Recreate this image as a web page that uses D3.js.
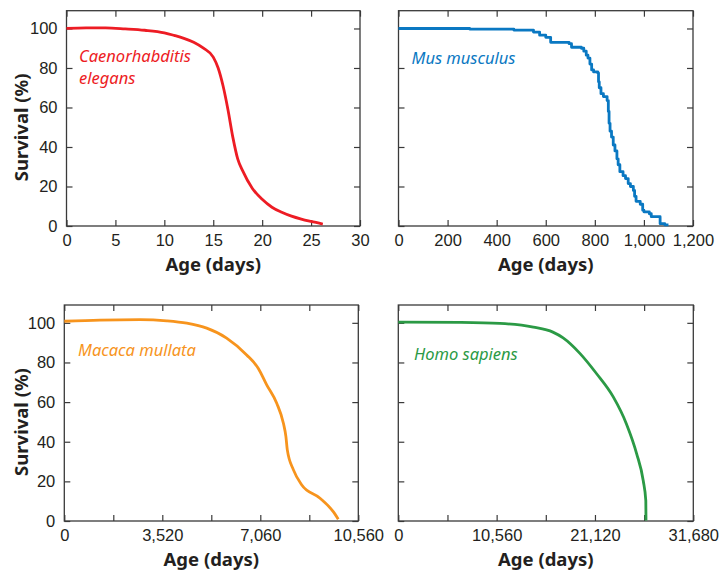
<!DOCTYPE html>
<html>
<head>
<meta charset="utf-8">
<script src="https://cdn.jsdelivr.net/npm/d3@7"></script>
<style>
  body { margin: 0; background: #fff; }
  svg { font-family: "Noto Sans", "Open Sans", sans-serif; }
  .tick text { fill: #231f20; }
</style>
</head>
<body>
<svg id="chart" width="721" height="570"></svg>
<script>
// survival curves, [age in days, survival %]
var elegans = [[0,100],[2,100.3],[4,100.3],[6,99.8],[8,99.1],[10,97.8],[11,96.5],[12,95],[13,93],[14,90],
  [15,85.5],[15.5,80],[16,71],[16.5,59],[17,45],[17.5,34],[18,28],[19,19],[20,13.5],[21,9.5],[22,7],
  [23,5],[24,3.5],[25,2.3],[26.2,1]];

var musculus = [[0,100],[290,99.7],[470,99.2],[550,98.2],[575,96.6],[600,95.5],[620,93],[695,92.3],[705,90.5],
  [745,90],[755,88.5],[765,86.5],[772,85],[780,82],[787,79],[795,78],[812,77.5],[815,73],[818,70],[825,67],
  [835,65.5],[850,63.5],[855,58],[858,52],[862,48],[868,45],[875,41],[882,38],[890,34],[895,31],[902,27.5],
  [915,25.5],[925,24],[936,21.5],[945,20],[957,18],[962,15],[968,12.5],[985,11],[995,8],[1000,7.2],
  [1022,6.2],[1030,4.7],[1066,1.2],[1085,0.6],[1100,0.6]];

var mullata = [[0,100.8],[1280,101.4],[2720,101.6],[3680,101],[4400,99.8],[5115,97.3],[5830,92.3],[6550,83.8],
  [6970,77],[7270,68.7],[7630,59.4],[7870,49.3],[7960,42.6],[8010,35.9],[8230,25.8],[8530,18.2],[9185,11.5],
  [9660,4.7],[9840,0.9]];

var sapiens = [[0,100.4],[6600,100.2],[10900,99.7],[14500,97.8],[16600,95.3],[17700,92.4],[19500,84.6],
  [21300,74.3],[23100,62.5],[24500,49],[25600,33.9],[26300,20.4],[26580,10.3],[26600,0.3]];

var yTicks = [0, 20, 40, 60, 80, 100];
var xTicksElegans = [0, 5, 10, 15, 20, 25, 30];
var xTicksMus = [0, 200, 400, 600, 800, 1000, 1200];
var xTicksMacaca = [0, 1760, 3520, 5280, 7040, 8800, 10560];
var xLabelsMacaca = ["0", "", "3,520", "", "7,060", "", "10,560"];
var xTicksHomo = [0, 5280, 10560, 15840, 21120, 26400, 31680];
var xLabelsHomo = ["0", "", "10,560", "", "21,120", "", "31,680"];

var svg = d3.select("#chart");

var panels = [
  { data: elegans, xmax: 30, ticks: xTicksElegans, labels: xTicksElegans.map(String),
    box: [66.5, 360, 10.7, 226], color: "#ed1c24", curve: d3.curveMonotoneX,
    name: ["Caenorhabditis", "elegans"], nx: 79, ny: 62, yLabels: true },
  { data: musculus, xmax: 1200, ticks: xTicksMus, labels: xTicksMus.map(d3.format(",")),
    box: [398.5, 693, 10.7, 226], color: "#0a78c2", curve: d3.curveStepAfter,
    name: ["Mus musculus"], nx: 411.5, ny: 63.5, yLabels: false },
  { data: mullata, xmax: 10560, ticks: xTicksMacaca, labels: xLabelsMacaca,
    box: [64.3, 358.3, 305, 521], color: "#f7941d", curve: d3.curveMonotoneX,
    name: ["Macaca mullata"], nx: 78, ny: 356, yLabels: true },
  { data: sapiens, xmax: 31680, ticks: xTicksHomo, labels: xLabelsHomo,
    box: [398.3, 693.3, 305, 521], color: "#2b9a45", curve: d3.curveMonotoneX,
    name: ["Homo sapiens"], nx: 414, ny: 360, yLabels: false }
];

var axisColor = "#3a3a3a";
var tickLen = 6;

panels.forEach(function (p) {
  var x0 = p.box[0], x1 = p.box[1], y0 = p.box[2], y1 = p.box[3];
  var x = d3.scaleLinear().domain([0, p.xmax]).range([x0, x1]);
  var y = d3.scaleLinear().domain([0, 109]).range([y1, y0]);

  var g = svg.append("g");

  // ticks inward on all four sides
  var bottom = g.append("g").attr("transform", "translate(0," + y1 + ")")
    .call(d3.axisBottom(x).tickValues(p.ticks).tickSizeInner(-tickLen).tickSizeOuter(0)
      .tickPadding(tickLen + 2).tickFormat(function (d, i) { return p.labels[i]; }));
  var top = g.append("g").attr("transform", "translate(0," + y0 + ")")
    .call(d3.axisTop(x).tickValues(p.ticks).tickSizeInner(-tickLen).tickSizeOuter(0).tickFormat(""));
  var left = g.append("g").attr("transform", "translate(" + x0 + ",0)")
    .call(d3.axisLeft(y).tickValues(yTicks).tickSizeInner(-tickLen).tickSizeOuter(0)
      .tickPadding(tickLen + 3).tickFormat(p.yLabels ? d3.format("d") : ""));
  var right = g.append("g").attr("transform", "translate(" + x1 + ",0)")
    .call(d3.axisRight(y).tickValues(yTicks).tickSizeInner(-tickLen).tickSizeOuter(0).tickFormat(""));

  [bottom, top, left, right].forEach(function (a) {
    a.select(".domain").remove();
    a.selectAll("line").attr("stroke", axisColor).attr("stroke-width", 1.2);
    a.selectAll("text").attr("font-size", 16.5).attr("font-family", null);
  });

  g.append("rect")
    .attr("x", x0).attr("y", y0)
    .attr("width", x1 - x0).attr("height", y1 - y0)
    .attr("fill", "none").attr("stroke", axisColor).attr("stroke-width", 1.3);

  var line = d3.line().x(function (d) { return x(d[0]); }).y(function (d) { return y(d[1]); }).curve(p.curve);
  g.append("path").datum(p.data)
    .attr("d", line)
    .attr("fill", "none")
    .attr("stroke", p.color)
    .attr("stroke-width", 2.8)
    .attr("stroke-linejoin", "round");

  // species name, one text per line
  p.name.forEach(function (s, i) {
    g.append("text")
      .attr("x", p.nx).attr("y", p.ny + i * 22)
      .attr("fill", p.color)
      .attr("font-style", "italic")
      .attr("font-size", 16.5)
      .text(s);
  });

  g.append("text")
    .attr("x", (x0 + x1) / 2).attr("y", y1 + 45)
    .attr("text-anchor", "middle")
    .attr("font-weight", "bold")
    .attr("font-size", 18.5)
    .attr("fill", "#231f20")
    .text("Age (days)");

  if (p.yLabels) {
    g.append("text")
      .attr("transform", "translate(" + 27.5 + "," + ((y0 + y1) / 2 + 9) + ") rotate(-90)")
      .attr("text-anchor", "middle")
      .attr("font-weight", "bold")
      .attr("font-size", 18.5)
      .attr("fill", "#231f20")
      .text("Survival (%)");
  }
});
</script>
</body>
</html>
